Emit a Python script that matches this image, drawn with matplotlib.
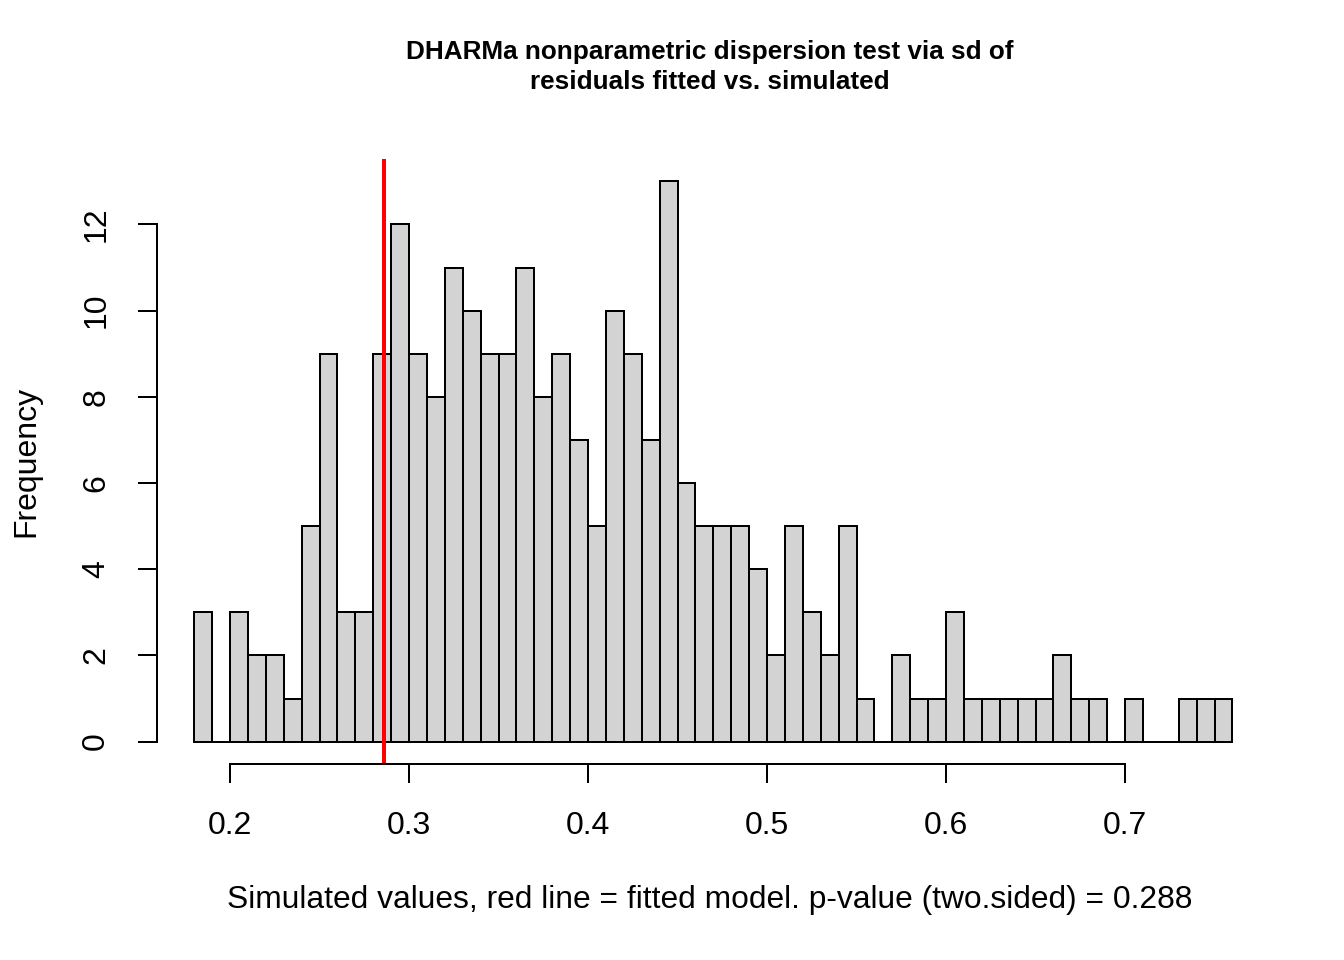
import numpy as np
import matplotlib
matplotlib.use('Agg')
import matplotlib.pyplot as plt

plt.rcParams['font.family'] = ['Liberation Sans', 'DejaVu Sans']

# bin edges 0.18 .. 0.76, width 0.01
bin_start = 0.18
bin_width = 0.01
counts = [3, 0, 3, 2, 2, 1, 5, 9, 3, 3,
          9, 12, 9, 8, 11, 10, 9, 9, 11, 8,
          9, 7, 5, 10, 9, 7, 13, 6, 5, 5,
          5, 4, 2, 5, 3, 2, 5, 1, 0, 2,
          1, 1, 3, 1, 1, 1, 1, 1, 2, 1,
          1, 0, 1, 0, 0, 1, 1, 1]
observed = 0.286
x_ticks = [0.2, 0.3, 0.4, 0.5, 0.6, 0.7]
x_ticklabels = ['0.2', '0.3', '0.4', '0.5', '0.6', '0.7']
y_ticks = [0, 2, 4, 6, 8, 10, 12]

edges = bin_start + bin_width * np.arange(len(counts) + 1)

fig = plt.figure(figsize=(7, 5), dpi=192)
ax = fig.add_axes([157/1344, 1 - 764/960, (1274 - 157)/1344, (764 - 159)/960])

ax.bar(edges[:-1], counts, width=bin_width, align='edge',
       color='#d3d3d3', edgecolor='black', linewidth=0.75)
ax.axvline(observed, color='red', linewidth=1.5)

ax.set_xlim(0.2 - 73/1790, 0.7832)
ax.set_ylim(-0.52, 13.52)

for s in ['top', 'right']:
    ax.spines[s].set_visible(False)
ax.spines['left'].set_bounds(0, 12)
ax.spines['bottom'].set_bounds(0.2, 0.7)
ax.spines['left'].set_linewidth(0.75)
ax.spines['bottom'].set_linewidth(0.75)

ax.set_xticks(x_ticks)
ax.set_xticklabels(x_ticklabels)
ax.set_yticks(y_ticks)
ax.set_yticklabels([str(v) for v in y_ticks], rotation=90, va='center')
ax.tick_params(axis='x', length=7.2, width=0.75, labelsize=12, pad=10.5)
ax.tick_params(axis='y', length=7.2, width=0.75, labelsize=12, pad=10)

ax.set_xlabel('Simulated values, red line = fitted model. p-value (two.sided) = 0.288',
              fontsize=11.9)
ax.xaxis.set_label_coords((710 - 157) / 1117, -(900 - 764) / 605)
ax.xaxis.label.set_va('center')
ax.set_ylabel('Frequency', fontsize=12, labelpad=15)

fig.text(710 / 1344, 1 - 67/960,
         'DHARMa nonparametric dispersion test via sd of\nresiduals fitted vs. simulated',
         ha='center', va='center', fontsize=9.8, fontweight='bold', linespacing=1.3)

fig.savefig('out.png', dpi=192)
